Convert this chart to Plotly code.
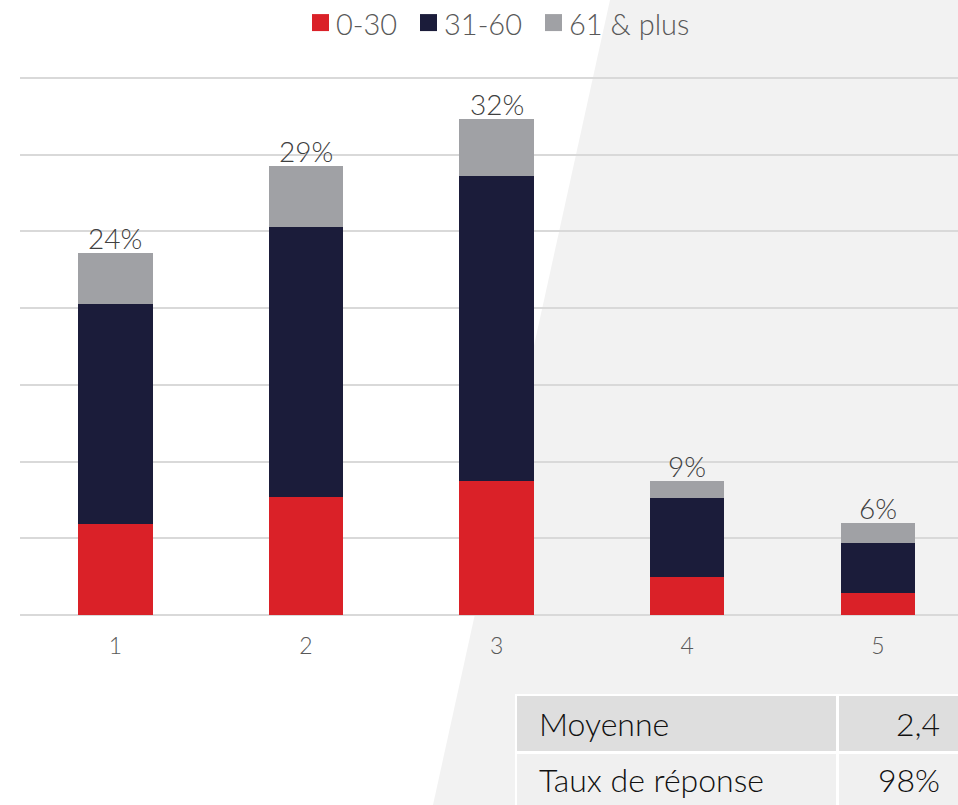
import plotly.graph_objects as go

categories = ["1", "2", "3", "4", "5"]
series_names = ["0-30", "31-60", "61 & plus"]
v_0_30 = [5.9, 7.7, 8.7, 2.5, 1.4]
v_31_60 = [14.4, 17.6, 19.9, 5.1, 3.3]
v_61_plus = [3.3, 4.0, 3.7, 1.1, 1.3]
total_labels = ["24%", "29%", "32%", "9%", "6%"]
table_labels = ["Moyenne", "Taux de réponse"]
table_values = ["2,4", "98%"]

colors = ["#DA2128", "#1B1C3A", "#A0A1A5"]
FONT = "Lato"

W, H = 958, 805
YMIN, YMAX = -0.2, 35.2
PX_PER_UNIT = (615 - 78) / 35.0
L, R = 20, 958
T = 78 - (YMAX - 35) * PX_PER_UNIT
B = 615 + (0 - YMIN) * PX_PER_UNIT


def px(x):
    return (x - L) / (R - L)


def py(y):
    return (B - y) / (B - T)


xs = list(range(len(categories)))
fig = go.Figure()
for name, vals, col in zip(series_names, [v_0_30, v_31_60, v_61_plus], colors):
    fig.add_trace(go.Bar(
        x=xs, y=vals, name=name, marker=dict(color=col, line=dict(width=0)),
        width=0.39, hoverinfo="skip", showlegend=False,
    ))

totals = [a + b + c for a, b, c in zip(v_0_30, v_31_60, v_61_plus)]
annotations = []
for i, (t, lab) in enumerate(zip(totals, total_labels)):
    annotations.append(dict(
        x=i, y=t, xref="x", yref="y", text=lab, showarrow=False,
        yanchor="bottom", yshift=-4,
        font=dict(family=FONT, size=28, color="#404040", weight=300),
    ))

shapes = []
# light grey diagonal background panel
shapes.append(dict(
    type="path", xref="paper", yref="paper", layer="below",
    path=f"M {px(610)} {py(0)} L {px(958)} {py(0)} L {px(958)} {py(805)} L {px(433)} {py(805)} Z",
    fillcolor="#F2F2F2", line=dict(width=0),
))

# manual legend
legend_x = [312, 420, 545]
for lx, name, col in zip(legend_x, series_names, colors):
    shapes.append(dict(type="rect", xref="paper", yref="paper", layer="above",
                       x0=px(lx), x1=px(lx + 17), y0=py(14), y1=py(31),
                       fillcolor=col, line=dict(width=0)))
    annotations.append(dict(x=px(lx + 22), y=py(23), xref="paper", yref="paper",
                            text=name, showarrow=False, xanchor="left", yanchor="middle",
                            font=dict(family=FONT, size=29, color="#595959", weight=300)))

# table
shapes.append(dict(type="rect", xref="paper", yref="paper", layer="above",
                   x0=px(515), x1=px(958), y0=py(694), y1=py(805),
                   fillcolor="#FFFFFF", line=dict(width=0)))
row_y = [(696, 751), (754, 805)]
row_fill = ["#DEDEDE", "#F0F0F0"]
col_x = [(517, 836), (839, 958)]
for (y0, y1), fc in zip(row_y, row_fill):
    for (x0, x1) in col_x:
        shapes.append(dict(type="rect", xref="paper", yref="paper", layer="above",
                           x0=px(x0), x1=px(x1), y0=py(y0), y1=py(y1),
                           fillcolor=fc, line=dict(width=0)))
for (y0, y1), lab, val in zip(row_y, table_labels, table_values):
    yc = py((y0 + y1) / 2)
    annotations.append(dict(x=px(537), y=yc, xref="paper", yref="paper", text=lab,
                            showarrow=False, xanchor="left", yanchor="middle",
                            font=dict(family=FONT, size=32, color="#111111", weight=300)))
    annotations.append(dict(x=px(942), y=yc, xref="paper", yref="paper", text=val,
                            showarrow=False, xanchor="right", yanchor="middle",
                            font=dict(family=FONT, size=32, color="#111111", weight=300)))

fig.update_layout(
    width=W, height=H,
    margin=dict(l=L, r=W - R, t=T, b=H - B, pad=0),
    barmode="stack",
    paper_bgcolor="#FFFFFF", plot_bgcolor="rgba(0,0,0,0)",
    showlegend=False,
    xaxis=dict(tickmode="array", tickvals=xs, ticktext=categories, range=[-0.5, 4.42],
               showgrid=False, zeroline=False, showline=False, ticks="",
               ticklabelstandoff=12,
               tickfont=dict(family=FONT, size=23, color="#595959", weight=300)),
    yaxis=dict(range=[YMIN, YMAX], tickmode="array", tickvals=[0, 5, 10, 15, 20, 25, 30, 35],
               showgrid=True, gridcolor="#D9D9D9", gridwidth=2,
               zeroline=False, showticklabels=False, ticks="", fixedrange=True),
    shapes=shapes, annotations=annotations,
    bargap=0,
)
fig.write_html("out.html", config={"displayModeBar": False},
               post_script="document.body.style.margin='0';document.body.style.overflow='hidden';")
